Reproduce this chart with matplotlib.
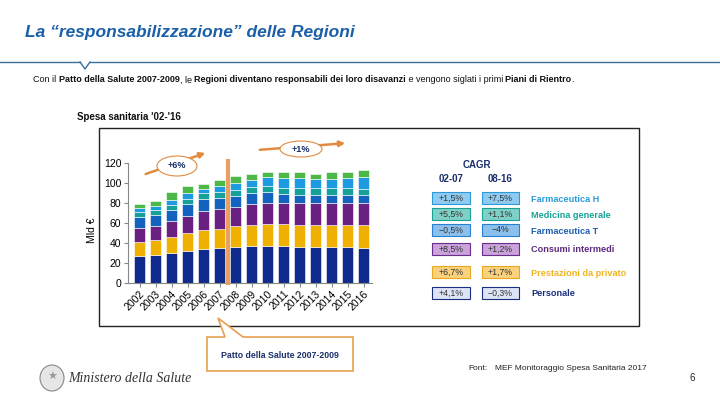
import matplotlib.pyplot as plt
from matplotlib.patches import Rectangle, Ellipse, Polygon, FancyArrowPatch
import numpy as np

plt.rcParams["font.family"] = ["Liberation Sans", "DejaVu Sans"]

# Spesa sanitaria, Mld €
years = [str(y) for y in range(2002, 2017)]
personale = [27.5, 28.3, 30.0, 31.7, 34.0, 34.7, 36.0, 36.7, 36.7, 36.7, 36.0, 35.7, 35.7, 35.7, 35.0]
prestazioni = [14.0, 15.0, 16.0, 18.3, 18.7, 19.3, 20.7, 21.6, 22.6, 22.3, 22.3, 22.3, 22.3, 22.6, 23.3]
consumi = [14.0, 13.4, 15.7, 17.3, 19.0, 20.0, 19.3, 20.7, 20.7, 21.0, 21.7, 22.0, 22.0, 21.7, 21.7]
farm_t = [11.0, 11.6, 11.6, 11.7, 12.3, 11.0, 10.7, 11.0, 11.0, 9.0, 8.3, 8.3, 8.3, 8.3, 7.7]
med_gen = [4.6, 4.9, 5.2, 5.4, 5.7, 6.0, 6.0, 6.1, 6.2, 6.2, 6.3, 6.3, 6.4, 6.5, 6.6]
farm_h = [3.7, 3.5, 4.8, 5.6, 4.3, 5.7, 7.3, 6.6, 8.8, 9.8, 10.4, 9.4, 9.3, 10.2, 11.7]
altro = [4.0, 5.0, 7.4, 6.7, 5.0, 6.6, 6.7, 6.6, 4.7, 5.7, 5.7, 5.3, 7.0, 6.3, 6.7]

series = [personale, prestazioni, consumi, farm_t, med_gen, farm_h, altro]
colors = ["#0d2a8c", "#f0b000", "#6a2080", "#1462c0", "#16a09a", "#1e9be0", "#4cb848"]

# CAGR table
cagr_labels = ["Farmaceutica H", "Medicina generale", "Farmaceutica T",
               "Consumi intermedi", "Prestazioni da privato", "Personale"]
cagr_02_07 = ["+1,5%", "+5,5%", "−0,5%", "+8,5%", "+6,7%", "+4,1%"]
cagr_08_16 = ["+7,5%", "+1,1%", "−4%", "+1,2%", "+1,7%", "−0,3%"]
label_colors = ["#2a9bd8", "#17a397", "#1f5fb0", "#5e2a80", "#f0b420", "#1a2f80"]
box_fills = ["#8fcaf0", "#7fd0c6", "#8cc0ec", "#c9a3da", "#fad27e", "#dde4f4"]
box_edges = ["#2a9bd8", "#17a397", "#2a80d0", "#6b2c8c", "#e8a820", "#1a2f80"]

W, H = 720, 405
fig = plt.figure(figsize=(7.2, 4.05), dpi=100)


def fx(x):
    return x / W


def fy(y):
    return 1 - y / H


# header
fig.text(fx(25), fy(32), "La \u201cresponsabilizzazione\u201d delle Regioni", fontsize=12.5,
         fontweight="bold", fontstyle="italic", color="#1a5fa8", va="center")
fig.add_artist(plt.Line2D([0, fx(80)], [fy(62), fy(62)], color="#3a6d9a", lw=1))
fig.add_artist(plt.Line2D([fx(80), fx(85), fx(90)], [fy(62), fy(69), fy(62)], color="#3a6d9a", lw=1))
fig.add_artist(plt.Line2D([fx(90), 1], [fy(62), fy(62)], color="#3a6d9a", lw=1))

# subtitle with bold spans
pieces = [("Con il ", "normal"), ("Patto della Salute 2007-2009", "bold"), (", le ", "normal"),
          ("Regioni diventano responsabili dei loro disavanzi", "bold"),
          (" e vengono siglati i primi ", "normal"), ("Piani di Rientro", "bold"), (".", "normal")]
renderer = fig.canvas.get_renderer()
x = 33
for txt, w in pieces:
    t = fig.text(fx(x), fy(80), txt, fontsize=6.5, fontweight=w, color="#111111", va="center")
    x += t.get_window_extent(renderer).width

fig.text(fx(77), fy(117), "Spesa sanitaria '02-'16", fontsize=7, fontweight="bold", color="#111111", va="center")

# frame box
fig.add_artist(Rectangle((fx(99), fy(326)), fx(639) - fx(99), fy(128) - fy(326),
                         transform=fig.transFigure, fill=False, ec="#222222", lw=1))

# bar chart
ax = fig.add_axes([128.3 / W, fy(283), 243.2 / W, 120 / H])
xpos = np.arange(len(years))
bottom = np.zeros(len(years))
for vals, c in zip(series, colors):
    ax.bar(xpos, vals, bottom=bottom, width=0.69, color=c, edgecolor="white", linewidth=0.4)
    bottom += np.array(vals)
ax.set_xlim(-0.7, 14.5)
ax.set_ylim(0, 120)
ax.set_yticks(range(0, 121, 20))
ax.set_xticks(xpos)
ax.set_xticklabels(years, rotation=45, ha="right", rotation_mode="anchor", fontsize=7.5)
ax.tick_params(axis="y", labelsize=7.5, length=3, color="#888888", pad=2)
ax.tick_params(axis="x", length=3, color="#888888", pad=1)
for s in ["top", "right"]:
    ax.spines[s].set_visible(False)
for s in ["left", "bottom"]:
    ax.spines[s].set_color("#888888")
ax.plot([5.5, 5.5], [0, 122], color="#e8a060", lw=3, clip_on=False, zorder=5)
fig.text(fx(92), fy(230), "Mld €", fontsize=7.5, rotation=90, va="center", ha="center")

# growth ellipses and arrows
orange = "#e08c40"
for (x0, y0, x1, y1), (cx, cy, ew, eh), lab in [((143, 175, 208, 152), (177, 166, 40, 20), "+6%"),
                                                ((257, 150, 348, 143), (301, 149, 42, 16), "+1%")]:
    fig.add_artist(FancyArrowPatch((fx(x0), fy(y0)), (fx(x1), fy(y1)), transform=fig.transFigure,
                                   arrowstyle="-|>", mutation_scale=8, color=orange, lw=1.8, zorder=6))
    fig.add_artist(Ellipse((fx(cx), fy(cy)), ew / W, eh / H, transform=fig.transFigure,
                           fc="white", ec=orange, lw=0.8, zorder=7))
    fig.text(fx(cx), fy(cy), lab, fontsize=6.5, fontweight="bold", color="#1a2f6a",
             ha="center", va="center", zorder=8)

# CAGR table
navy = "#1a2f6a"
fig.text(fx(477), fy(165), "CAGR", fontsize=7, fontweight="bold", color=navy, ha="center", va="center")
fig.text(fx(451), fy(179), "02-07", fontsize=7, fontweight="bold", color=navy, ha="center", va="center")
fig.text(fx(500), fy(179), "08-16", fontsize=7, fontweight="bold", color=navy, ha="center", va="center")
row_y = [198, 214, 230, 249, 272, 293]
for i, ry in enumerate(row_y):
    for bx, bw, txt in [(432, 38, cagr_02_07[i]), (482, 37, cagr_08_16[i])]:
        fig.add_artist(Rectangle((fx(bx), fy(ry + 6)), bw / W, 12 / H, transform=fig.transFigure,
                                 fc=box_fills[i], ec=box_edges[i], lw=0.8))
        fig.text(fx(bx + bw / 2), fy(ry), txt, fontsize=6.3, color="#333333", ha="center", va="center")
    fig.text(fx(531), fy(ry + 1), cagr_labels[i], fontsize=6.6, fontweight="bold",
             color=label_colors[i], va="center")

# callout
fig.add_artist(Polygon([(fx(207), fy(337)), (fx(225), fy(337)), (fx(218), fy(318)), (fx(243), fy(337)),
                        (fx(353), fy(337)), (fx(353), fy(371)), (fx(207), fy(371))],
                       closed=True, transform=fig.transFigure, fc="white", ec="#e8a050", lw=1.2))
fig.text(fx(280), fy(355), "Patto della Salute 2007-2009", fontsize=6.3, fontweight="bold",
         color=navy, ha="center", va="center")

# footer
fig.add_artist(Ellipse((fx(52), fy(378)), 24 / W, 26 / H, transform=fig.transFigure,
                       fc="#e6e6e6", ec="#888888", lw=0.8))
fig.text(fx(52), fy(377), "★", fontsize=8, color="#999999", ha="center", va="center")
fig.text(fx(68), fy(379), "Ministero della Salute", fontsize=10, fontstyle="italic",
         family=["Liberation Serif", "DejaVu Serif"], color="#333333", va="center")
fig.text(fx(468), fy(369), "Font:", fontsize=6, color="#222222", va="center")
fig.text(fx(495), fy(369), "MEF Monitoraggio Spesa Sanitaria 2017", fontsize=6, color="#222222", va="center")
fig.text(fx(690), fy(378), "6", fontsize=7, color="#222222", va="center")

fig.savefig("out.png", dpi=100)
